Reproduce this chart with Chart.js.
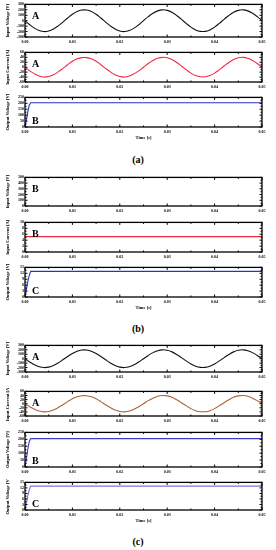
<!DOCTYPE html>
<html>
<head>
<meta charset="utf-8">
<script src="https://cdn.jsdelivr.net/npm/chart.js@4.4.0/dist/chart.umd.min.js"></script>
<style>
html,body{margin:0;padding:0;background:#fff;width:276px;height:550px;overflow:hidden;position:relative}
canvas{position:absolute;left:0}
.cap{position:absolute;left:0;width:276px;text-align:center;font-family:'Liberation Serif',serif;font-size:10px;font-weight:bold;color:#000;line-height:10px}
</style>
</head>
<body>
<canvas id="a1"></canvas><canvas id="a2"></canvas><canvas id="a3"></canvas>
<div class="cap" style="top:155px">(a)</div>
<canvas id="b1"></canvas><canvas id="b2"></canvas><canvas id="b3"></canvas>
<div class="cap" style="top:324px">(b)</div>
<canvas id="c1"></canvas><canvas id="c2"></canvas><canvas id="c3"></canvas><canvas id="c4"></canvas>
<div class="cap" style="top:537px">(c)</div>
<script>
// ---------- data ----------
const time = [0,0.001,0.002,0.003,0.004,0.005,0.006,0.007,0.008,0.009,0.010,0.011,0.012,0.013,0.014,0.015,0.016,0.017,0.018,0.019,0.020,0.021,0.022,0.023,0.024,0.025,0.026,0.027,0.028,0.029,0.030,0.031,0.032,0.033,0.034,0.035,0.036,0.037,0.038,0.039,0.040,0.041,0.042,0.043,0.044,0.045,0.046,0.047,0.048,0.049,0.050];
const inputVoltageA = [0,-74,-137,-181,-200,-190,-154,-96,-25,50,118,169,196,196,169,118,50,-25,-96,-154,-190,-200,-181,-137,-74,0,74,137,181,200,190,154,96,25,-50,-118,-169,-196,-196,-169,-118,-50,25,96,154,190,200,181,137,74,0];
const inputCurrentA = [0,-15,-27,-36,-40,-38,-31,-19,-5,10,24,34,39,39,34,24,10,-5,-19,-31,-38,-40,-36,-27,-15,0,15,27,36,40,38,31,19,5,-10,-24,-34,-39,-39,-34,-24,-10,5,19,31,38,40,36,27,15,0];
const inputVoltageC = [0,-74,-137,-181,-200,-190,-154,-96,-25,50,118,169,196,196,169,118,50,-25,-96,-154,-190,-200,-181,-137,-74,0,74,137,181,200,190,154,96,25,-50,-118,-169,-196,-196,-169,-118,-50,25,96,154,190,200,181,137,74,0];
const inputCurrentC = [0,-15,-27,-36,-40,-38,-31,-19,-5,10,24,34,39,39,34,24,10,-5,-19,-31,-38,-40,-36,-27,-15,0,15,27,36,40,38,31,19,5,-10,-24,-34,-39,-39,-34,-24,-10,5,19,31,38,40,36,27,15,0];
const stepTime = [0,0.0003,0.0006,0.0009,0.0012,0.05];
const outputVoltageA = [0,60,130,185,205,205];
const outputVoltageB = [0,4,8,11,13,13];
const outputVoltageC1 = [0,60,130,185,205,205];
const outputVoltageC2 = [0,4,8,11,13,13];
const dcTime = [0,0.05];
const inputCurrentB = [5.2,5.2];
const inputVoltageB = [];
const xTicks = [0,0.01,0.02,0.03,0.04,0.05];

// ---------- helpers ----------
const FONT = "'Liberation Serif', serif";
function pts(xs, ys){ return ys.map((v,i)=>({x:xs[i], y:v})); }

const framePlugin = {
  id:'frame',
  afterDraw(chart, args, o){
    const {ctx, chartArea:a, scales:{x,y}} = chart;
    ctx.save();
    ctx.strokeStyle = '#000';
    ctx.lineWidth = 1;
    function ticksFor(scale){
      const v = scale.ticks.map(t=>t.value);
      const minor = [];
      for(let i=0;i<v.length-1;i++) minor.push((v[i]+v[i+1])/2);
      return {major:v, minor};
    }
    ctx.beginPath();
    const tx = ticksFor(x), ty = ticksFor(y);
    tx.major.forEach(v=>{const p=x.getPixelForValue(v); ctx.moveTo(p,a.bottom); ctx.lineTo(p,a.bottom-2.5); ctx.moveTo(p,a.top); ctx.lineTo(p,a.top+2.5);});
    tx.minor.forEach(v=>{const p=x.getPixelForValue(v); ctx.moveTo(p,a.bottom); ctx.lineTo(p,a.bottom-1.5); ctx.moveTo(p,a.top); ctx.lineTo(p,a.top+1.5);});
    ty.major.forEach(v=>{const p=y.getPixelForValue(v); ctx.moveTo(a.left,p); ctx.lineTo(a.left+2.5,p); ctx.moveTo(a.right,p); ctx.lineTo(a.right-2.5,p);});
    ty.minor.forEach(v=>{const p=y.getPixelForValue(v); ctx.moveTo(a.left,p); ctx.lineTo(a.left+1.5,p); ctx.moveTo(a.right,p); ctx.lineTo(a.right-1.5,p);});
    ctx.stroke();
    ctx.lineWidth = 1.3;
    ctx.strokeRect(a.left, a.top, a.width, a.height);
    if(o && o.letter){
      ctx.fillStyle = '#000';
      ctx.font = "bold 10px " + FONT;
      ctx.textAlign = 'left';
      if(o.pos === 'top'){ ctx.textBaseline='top'; ctx.fillText(o.letter, a.left+7, a.top+7); }
      else { ctx.textBaseline='bottom'; ctx.fillText(o.letter, a.left+7, a.bottom-1); }
    }
    ctx.restore();
  }
};

function makeChart(id, cfg){
  const axisH = cfg.timeTitle ? 15 : 9;
  const padTop = 3;
  const cv = document.getElementById(id);
  const h = (cfg.bottom - cfg.top) + padTop + axisH;
  cv.width = 276; cv.height = h;
  cv.style.top = (cfg.top - padTop) + 'px';
  return new Chart(cv, {
    type:'line',
    data:{ datasets: cfg.datasets.map(d=>({
      data: pts(d.x, d.y), borderColor: d.color, borderWidth: 1.1,
      pointRadius: 0, tension: d.smooth ? 0.4 : 0, fill:false
    }))},
    options:{
      responsive:false, animation:false, events:[],
      layout:{padding:{top:padTop, right:14, left:0, bottom:0}},
      plugins:{legend:{display:false}, tooltip:{enabled:false}, frame:{letter:cfg.letter, pos:cfg.pos}},
      scales:{
        x:{type:'linear', min:0, max:0.05,
           afterBuildTicks: s=>{ s.ticks = xTicks.map(v=>({value:v})); },
           afterFit: s=>{ s.height = axisH; },
           grid:{display:false, drawTicks:false},
           border:{display:false},
           ticks:{padding:3, maxRotation:0, autoSkip:false, color:'#000',
                  font:{family:FONT, size:4, weight:'bold'}, callback:v=>Number(v).toFixed(2)},
           title:{display:!!cfg.timeTitle, text:'Time [s]', color:'#000', padding:{top:0,bottom:1},
                  font:{family:FONT, size:4.5, weight:'bold'}}
        },
        y:{min:cfg.ymin, max:cfg.ymax,
           afterFit: s=>{ s.width = 25; },
           grid:{display:false, drawTicks:false},
           border:{display:false},
           ticks:{stepSize:cfg.ystep, padding:1, autoSkip:false, color:'#000',
                  font:{family:FONT, size:4, weight:'bold'}},
           title:{display:true, text:cfg.ytitle, color:'#000', padding:{top:5,bottom:0},
                  font:{family:FONT, size:4.5, weight:'bold'}}
        }
      }
    },
    plugins:[framePlugin]
  });
}

const VIN = 'Input Voltage [V]', IIN = 'Input Current [A]', VOUT = 'Output Voltage [V]';

makeChart('a1',{top:4,bottom:37,ymin:-300,ymax:300,ystep:100,ytitle:VIN,letter:'A',pos:'top',
  datasets:[{x:time,y:inputVoltageA,color:'#111111',smooth:true}]});
makeChart('a2',{top:52,bottom:82,ymin:-60,ymax:60,ystep:20,ytitle:IIN,letter:'A',pos:'top',
  datasets:[{x:time,y:inputCurrentA,color:'#ee2a40',smooth:true}]});
makeChart('a3',{top:97,bottom:127,ymin:0,ymax:250,ystep:50,ytitle:VOUT,letter:'B',pos:'bottom',timeTitle:true,
  datasets:[{x:stepTime,y:outputVoltageA,color:'#2236c8'}]});

makeChart('b1',{top:177,bottom:206,ymin:0,ymax:500,ystep:100,ytitle:VIN,letter:'B',pos:'top',
  datasets:[{x:[],y:inputVoltageB,color:'#111111'}]});
makeChart('b2',{top:222,bottom:252,ymin:0,ymax:10,ystep:2,ytitle:IIN,letter:'B',pos:'top',
  datasets:[{x:dcTime,y:inputCurrentB,color:'#ee2a40'}]});
makeChart('b3',{top:267,bottom:297,ymin:0,ymax:15,ystep:3,ytitle:VOUT,letter:'C',pos:'bottom',timeTitle:true,
  datasets:[{x:stepTime,y:outputVoltageB,color:'#2236c8'}]});

makeChart('c1',{top:345,bottom:372,ymin:-300,ymax:300,ystep:100,ytitle:VIN,letter:'A',pos:'top',
  datasets:[{x:time,y:inputVoltageC,color:'#111111',smooth:true}]});
makeChart('c2',{top:391,bottom:416,ymin:-60,ymax:60,ystep:20,ytitle:IIN,letter:'A',pos:'top',
  datasets:[{x:time,y:inputCurrentC,color:'#a8643a',smooth:true}]});
makeChart('c3',{top:432,bottom:467,ymin:0,ymax:250,ystep:50,ytitle:VOUT,letter:'B',pos:'bottom',
  datasets:[{x:stepTime,y:outputVoltageC1,color:'#3a3cd0'}]});
makeChart('c4',{top:482,bottom:510,ymin:0,ymax:15,ystep:3,ytitle:VOUT,letter:'C',pos:'bottom',timeTitle:true,
  datasets:[{x:stepTime,y:outputVoltageC2,color:'#8a6ee0'}]});
</script>
</body>
</html>
